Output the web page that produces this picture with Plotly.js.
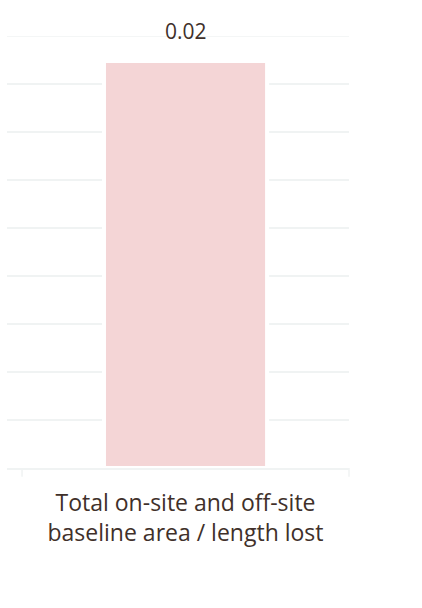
<!DOCTYPE html>
<html>
<head>
<meta charset="utf-8">
<script src="https://cdn.plot.ly/plotly-3.0.1.min.js"></script>
<style>html,body{margin:0;padding:0;background:#fff;}#chart{width:422px;height:608px;}</style>
</head>
<body>
<div id="chart"></div>
<script>
const categories = ["Total on-site and off-site<br>baseline area / length lost"];
const values = [0.0212];
const labels = ["0.02"];
const axisMax = 0.0225;

const textColor = "#40302A";
const gridColor = "#F0F3F3";

const trace = {
  type: "bar",
  x: categories,
  y: values,
  width: 0.477,
  marker: {color: "#F4D5D6", line: {color: "#FFFFFF", width: 4}},
  hoverinfo: "skip"
};

const layout = {
  width: 422,
  height: 608,
  margin: {l: 7, r: 73, t: 36, b: 140},
  paper_bgcolor: "#FFFFFF",
  plot_bgcolor: "#FFFFFF",
  showlegend: false,
  font: {family: "Open Sans, sans-serif", color: textColor},
  xaxis: {
    type: "category",
    range: [-0.522, 0.478],
    showgrid: false,
    showline: true,
    linecolor: gridColor,
    linewidth: 1.5,
    ticks: "",
    ticklabelstandoff: 14,
    tickfont: {size: 23, color: textColor},
    fixedrange: true
  },
  yaxis: {
    range: [0, axisMax],
    tick0: 0,
    dtick: 0.0025,
    showticklabels: false,
    showgrid: true,
    gridcolor: gridColor,
    gridwidth: 1.5,
    zeroline: false,
    fixedrange: true
  },
  annotations: categories.map((c, i) => ({
    x: c, y: values[i], xref: "x", yref: "y",
    text: labels[i], showarrow: false,
    yanchor: "bottom", yshift: 14,
    font: {size: 21, color: textColor}
  })),
  shapes: [
    {type: "line", xref: "paper", yref: "y", x0: 0, x1: 1, y0: axisMax, y1: axisMax, layer: "below", line: {color: gridColor, width: 1.5}},
    {type: "line", xref: "paper", yref: "paper", x0: 0.044, x1: 0.044, y0: 0, y1: -0.02, line: {color: gridColor, width: 1.5}},
    {type: "line", xref: "paper", yref: "paper", x0: 1, x1: 1, y0: 0, y1: -0.02, line: {color: gridColor, width: 1.5}}
  ]
};

Plotly.newPlot("chart", [trace], layout, {displayModeBar: false, staticPlot: true});
</script>
</body>
</html>
